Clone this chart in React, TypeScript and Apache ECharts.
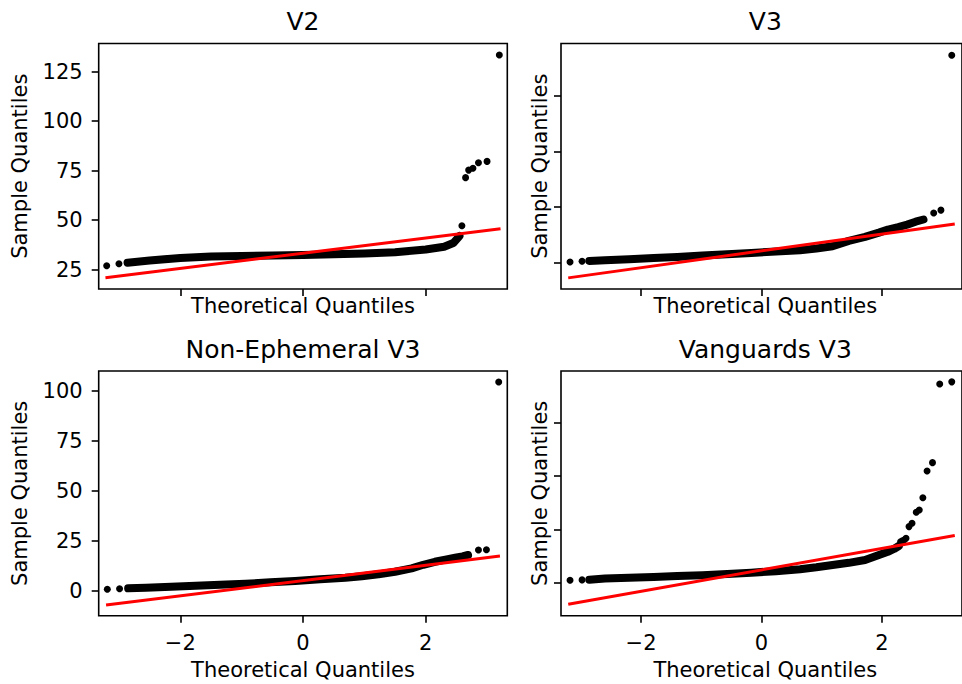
import React, { useEffect, useRef } from "react";
import * as echarts from "echarts";

const panelTitles = ["V2", "V3", "Non-Ephemeral V3", "Vanguards V3"];
const xAxisName = "Theoretical Quantiles";
const yAxisName = "Sample Quantiles";

// Tick values
const xTicks = [-2, 0, 2];
const yTicksV2 = [25, 50, 75, 100, 125];
const yTicksV3 = [0, 25, 50, 75];
const yTicksNonEph = [0, 25, 50, 75, 100];
const yTicksVang = [0, 25, 50, 75];

// V2 panel
const v2BandX = [-2.86, -2.5, -2.0, -1.5, -1.0, -0.5, 0, 0.5, 1.0, 1.5, 2.0, 2.3, 2.45, 2.55];
const v2BandY = [28.6, 29.7, 31.0, 31.7, 32.0, 32.2, 32.5, 32.8, 33.2, 33.9, 35.2, 36.6, 38.5, 42.0];
const v2DotX = [-3.2, -3.0, 2.59, 2.65, 2.7, 2.77, 2.86, 3.0, 3.2];
const v2DotY = [27.0, 28.0, 47.2, 71.5, 75.3, 76.2, 79.0, 79.7, 133.4];
const v2FitX = [-3.22, 3.22];
const v2FitY = [21.0, 45.7];

// V3 panel
const v3BandX = [-2.86, -2.6, -2.2, -1.79, -1.4, -0.98, -0.57, -0.17, 0.24, 0.64, 0.91, 1.18, 1.45, 1.72, 1.95, 2.1, 2.27, 2.42, 2.56, 2.69];
const v3BandY = [0.9, 1.2, 1.7, 2.2, 2.7, 3.3, 3.9, 4.5, 5.1, 5.7, 6.5, 7.5, 9.9, 11.7, 13.6, 15.0, 16.1, 17.2, 18.5, 19.5];
const v3DotX = [-3.18, -2.98, 2.86, 2.98, 3.16];
const v3DotY = [0.45, 0.76, 22.4, 23.7, 93.2];
const v3FitX = [-3.21, 3.21];
const v3FitY = [-6.7, 17.5];

// Non-Ephemeral V3 panel
const nonEphBandX = [-2.85, -2.56, -2.15, -1.75, -1.35, -0.94, -0.53, -0.13, 0.28, 0.69, 0.96, 1.23, 1.5, 1.77, 1.96, 2.15, 2.32, 2.48, 2.6, 2.69];
const nonEphBandY = [1.2, 1.5, 2.0, 2.5, 3.0, 3.5, 4.2, 4.9, 5.7, 6.5, 7.3, 8.2, 9.5, 11.2, 13.0, 14.5, 15.6, 16.5, 17.2, 17.9];
const nonEphDotX = [-3.19, -2.99, 2.86, 2.99, 3.19];
const nonEphDotY = [0.7, 1.0, 20.4, 20.5, 104.5];
const nonEphFitX = [-3.21, 3.21];
const nonEphFitY = [-7.2, 17.4];

// Vanguards V3 panel
const vangBandX = [-2.86, -2.6, -2.2, -1.79, -1.4, -0.98, -0.57, -0.17, 0.24, 0.64, 0.91, 1.18, 1.45, 1.72, 1.95, 2.1, 2.2, 2.28];
const vangBandY = [1.4, 1.9, 2.3, 2.7, 3.1, 3.5, 4.1, 4.7, 5.4, 6.3, 7.2, 8.3, 9.3, 10.6, 13.0, 14.5, 15.8, 17.2];
const vangDotX = [-3.18, -2.98, 2.31, 2.34, 2.37, 2.4, 2.45, 2.5, 2.57, 2.62, 2.68, 2.75, 2.84, 2.96, 3.16];
const vangDotY = [1.1, 1.3, 19.2, 19.6, 20.0, 20.8, 26.3, 27.9, 33.0, 34.1, 39.8, 52.4, 56.3, 93.2, 94.2];
const vangFitX = [-3.21, 3.21];
const vangFitY = [-10.1, 22.1];

const xRange = [-3.33, 3.33];
const yRanges = [
  [15.3, 139.2],
  [-11.7, 98.5],
  [-12.5, 110],
  [-15.5, 99.3],
];

const panels = [
  { bx: v2BandX, by: v2BandY, dx: v2DotX, dy: v2DotY, fx: v2FitX, fy: v2FitY, yt: yTicksV2 },
  { bx: v3BandX, by: v3BandY, dx: v3DotX, dy: v3DotY, fx: v3FitX, fy: v3FitY, yt: yTicksV3 },
  { bx: nonEphBandX, by: nonEphBandY, dx: nonEphDotX, dy: nonEphDotY, fx: nonEphFitX, fy: nonEphFitY, yt: yTicksNonEph },
  { bx: vangBandX, by: vangBandY, dx: vangDotX, dy: vangDotY, fx: vangFitX, fy: vangFitY, yt: yTicksVang },
];

// Layout (pixels)
const gridBoxes = [
  { left: 98.7, top: 43.5, width: 408.6, height: 245.5 },
  { left: 561, top: 43.5, width: 408.6, height: 245.5 },
  { left: 98.7, top: 371, width: 408.6, height: 244.7 },
  { left: 561, top: 371, width: 408.6, height: 244.7 },
];

const FONT = "DejaVu Sans";

function pairs(xs: number[], ys: number[]) {
  return xs.map((x, i) => [x, ys[i]]);
}

function fmt(v: number) {
  return v < 0 ? "\u2212" + Math.abs(v) : String(v);
}

export default function App() {
  const ref = useRef<HTMLDivElement>(null);

  useEffect(() => {
    if (!ref.current) return;
    const chart = echarts.init(ref.current, null, { renderer: "svg" });

    const grid = gridBoxes.map((g) => ({
      ...g,
      show: true,
      borderColor: "#000",
      borderWidth: 1.6,
      backgroundColor: "transparent",
      containLabel: false,
    }));

    const xAxis = gridBoxes.map((_, i) => ({
      gridIndex: i,
      type: "value",
      position: "bottom",
      min: xRange[0],
      max: xRange[1],
      axisLine: { show: false, onZero: false },
      splitLine: { show: false },
      axisTick: { show: true, length: 7, customValues: xTicks, lineStyle: { color: "#000", width: 1.6 } },
      axisLabel: {
        show: i >= 2,
        customValues: xTicks,
        margin: 17,
        fontSize: 21,
        fontFamily: FONT,
        color: "#000",
        formatter: (v: number) => fmt(v),
      },
    }));

    const yAxis = panels.map((p, i) => ({
      gridIndex: i,
      type: "value",
      position: "left",
      min: yRanges[i][0],
      max: yRanges[i][1],
      axisLine: { show: false, onZero: false },
      splitLine: { show: false },
      axisTick: { show: true, length: 7, customValues: p.yt, lineStyle: { color: "#000", width: 1.6 } },
      axisLabel: {
        show: i % 2 === 0,
        customValues: p.yt,
        margin: 16,
        fontSize: 21,
        fontFamily: FONT,
        color: "#000",
        formatter: (v: number) => fmt(v),
      },
    }));

    const series: any[] = [];
    panels.forEach((p, i) => {
      series.push({
        type: "line",
        xAxisIndex: i,
        yAxisIndex: i,
        data: pairs(p.bx, p.by),
        showSymbol: false,
        symbol: "none",
        silent: true,
        lineStyle: { color: "#000", width: 8, cap: "round", join: "round", opacity: 1 },
      });
      series.push({
        type: "scatter",
        xAxisIndex: i,
        yAxisIndex: i,
        data: pairs(p.dx, p.dy),
        symbolSize: 7,
        silent: true,
        itemStyle: { color: "#000", opacity: 1 },
      });
      series.push({
        type: "line",
        xAxisIndex: i,
        yAxisIndex: i,
        data: pairs(p.fx, p.fy),
        showSymbol: false,
        symbol: "none",
        silent: true,
        lineStyle: { color: "#ff0000", width: 3 },
      });
    });

    const graphic: any[] = [];
    gridBoxes.forEach((g, i) => {
      const cx = g.left + g.width / 2;
      const cy = g.top + g.height / 2;
      graphic.push({
        type: "text",
        x: cx,
        y: g.top - 22,
        style: { text: panelTitles[i], textAlign: "center", textVerticalAlign: "middle", font: `25px "${FONT}"`, fill: "#000" },
      });
      graphic.push({
        type: "text",
        x: cx,
        y: g.top + g.height + (i >= 2 ? 54.5 : 17),
        style: { text: xAxisName, textAlign: "center", textVerticalAlign: "middle", font: `21px "${FONT}"`, fill: "#000" },
      });
      graphic.push({
        type: "text",
        x: g.left - (i % 2 === 0 ? 78.7 : 21),
        y: cy,
        rotation: Math.PI / 2,
        style: { text: yAxisName, textAlign: "center", textVerticalAlign: "middle", font: `21px "${FONT}"`, fill: "#000" },
      });
    });

    chart.setOption({
      animation: false,
      backgroundColor: "#fff",
      grid,
      xAxis,
      yAxis,
      series,
      graphic,
    });

    return () => chart.dispose();
  }, []);

  return (
    <div
      ref={ref}
      style={{ position: "fixed", left: 0, top: 0, width: 962, height: 684, background: "#fff" }}
    />
  );
}
